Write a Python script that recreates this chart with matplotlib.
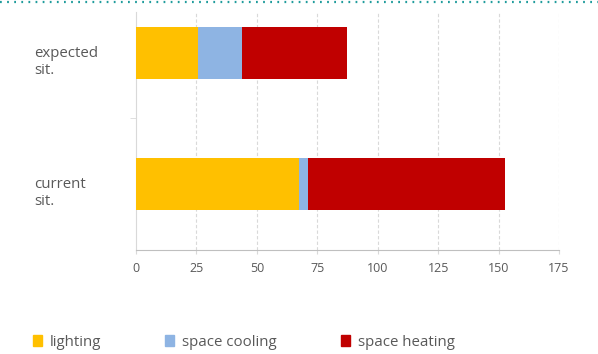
import numpy as np
import matplotlib
matplotlib.use("Agg")
import matplotlib.pyplot as plt
import matplotlib.transforms as mtransforms
from matplotlib.patches import Patch
from matplotlib.lines import Line2D

plt.rcParams.update({"font.family": ["Open Sans", "DejaVu Sans"], "font.size": 9})

situations = ["current\nsit.", "expected\nsit."]
series = ["lighting", "space cooling", "space heating"]
lighting = [67.4, 25.5]
space_cooling = [3.9, 18.2]
space_heating = [81.4, 43.7]
colors = ["#ffc000", "#8eb4e3", "#c00000"]
xticks = [0, 25, 50, 75, 100, 125, 150, 175]

TXT = "#595959"
GRID = "#d9d9d9"

fig = plt.figure(figsize=(5.98, 3.54), dpi=100)
ax = fig.add_axes([136 / 598, 1 - 250 / 354, (559 - 136) / 598, 238 / 354])

y = np.arange(len(situations))
left = np.zeros(len(situations))
for vals, name, c in zip([lighting, space_cooling, space_heating], series, colors):
    ax.barh(y, vals, left=left, height=0.4, color=c, label=name, zorder=3)
    left += np.array(vals)

ax.set_xlim(0, 175)
ax.set_ylim(-0.504, 1.313)
ax.set_xticks(xticks)
ax.set_xticklabels([str(t) for t in xticks], color=TXT, fontsize=9)
ax.set_yticks(y)
ax.set_yticklabels(situations, color=TXT, fontsize=10.8, ha="left", linespacing=1.25)
ax.tick_params(axis="y", length=0, pad=73)
# category labels sit a little below the bar centres
shift = mtransforms.ScaledTranslation(0, -4 / 72, fig.dpi_scale_trans)
for lab in ax.get_yticklabels():
    lab.set_transform(lab.get_transform() + shift)
ax.set_yticks([0.5], minor=True)
ax.tick_params(axis="y", which="minor", length=4, color=GRID)
ax.tick_params(axis="x", length=3, color=GRID, pad=6)

for v in xticks[1:]:
    ax.axvline(v, color=GRID, lw=0.8, ls=(0, (3, 2)), zorder=1)
for side in ["top", "right"]:
    ax.spines[side].set_visible(False)
ax.spines["left"].set_color(GRID)
ax.spines["bottom"].set_color("#bfbfbf")

handles = [Patch(facecolor=c, edgecolor=c) for c in colors]
leg = fig.legend(handles, series, loc="center left", bbox_to_anchor=(27 / 598, 1 - 342 / 354),
                 ncol=3, frameon=False, fontsize=10.8, handlelength=0.6, handleheight=0.8,
                 handletextpad=0.5, columnspacing=4.3, borderaxespad=0)
for t in leg.get_texts():
    t.set_color(TXT)

# dotted border along the top edge
fig.add_artist(Line2D([0, 1], [1 - 2 / 354, 1 - 2 / 354], transform=fig.transFigure,
                      color="#1f9c9c", lw=1.6, ls=(0, (0.8, 2.4))))

fig.savefig("out.png", dpi=100)
